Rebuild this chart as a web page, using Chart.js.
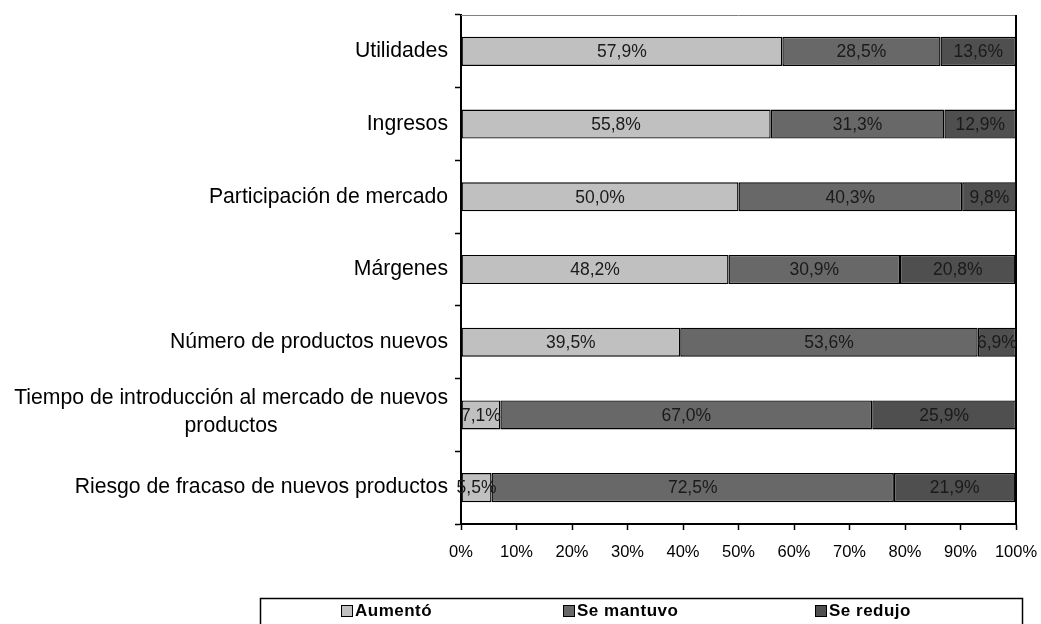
<!DOCTYPE html>
<html lang="es">
<head>
    <meta charset="UTF-8">
    <title>Evolución de indicadores</title>
    <style>
        body { margin: 0; background: #fff; }
        #wrap { width: 1041px; height: 624px; }
    </style>
</head>
<body>
    <div id="wrap">
        <canvas id="myChart" width="1041" height="624"></canvas>
    </div>

    <script src="https://cdn.jsdelivr.net/npm/chart.js"></script>
    <script>
        // categorías (la de dos líneas va como arreglo)
        const categories = [
            'Utilidades',
            'Ingresos',
            'Participación de mercado',
            'Márgenes',
            'Número de productos nuevos',
            ['Tiempo de introducción al mercado de nuevos', 'productos'],
            'Riesgo de fracaso de nuevos productos'
        ];
        const aumento = [57.9, 55.8, 50.0, 48.2, 39.5, 7.1, 5.5];
        const mantuvo = [28.5, 31.3, 40.3, 30.9, 53.6, 67.0, 72.5];
        const redujo  = [13.6, 12.9, 9.8, 20.8, 6.9, 25.9, 21.9];
        const seriesNames = ['Aumentó', 'Se mantuvo', 'Se redujo'];
        const xTickLabels = ['0%', '10%', '20%', '30%', '40%', '50%', '60%', '70%', '80%', '90%', '100%'];

        const FONT = '"Liberation Sans", Arial, sans-serif';

        function fmt(v) {
            return v.toFixed(1).replace('.', ',') + '%';
        }

        // etiquetas del eje Y (centradas por bloque, alineadas a la derecha)
        const yLabelsPlugin = {
            id: 'yLabels',
            afterDraw(chart) {
                const ctx = chart.ctx;
                const y = chart.scales.y;
                const right = chart.chartArea.left - 13;
                const lineH = 28;
                ctx.save();
                ctx.font = '21.2px ' + FONT;
                ctx.fillStyle = '#000';
                ctx.textBaseline = 'middle';
                ctx.textAlign = 'center';
                chart.data.labels.forEach((lab, i) => {
                    const lines = Array.isArray(lab) ? lab : [lab];
                    const widest = Math.max(...lines.map(l => ctx.measureText(l).width));
                    const cx = right - widest / 2;
                    const cy = y.getPixelForValue(i);
                    const y0 = cy - (lines.length - 1) * lineH / 2 - (lines.length > 1 ? 3 : 0);
                    lines.forEach((l, k) => ctx.fillText(l, cx, y0 + k * lineH));
                });
                ctx.restore();
            }
        };

        // valores dentro de cada segmento
        const valueLabelsPlugin = {
            id: 'valueLabels',
            afterDatasetsDraw(chart) {
                const ctx = chart.ctx;
                ctx.save();
                ctx.font = '17.5px ' + FONT;
                ctx.fillStyle = '#1a1a1a';
                ctx.textAlign = 'center';
                ctx.textBaseline = 'middle';
                chart.data.datasets.forEach((ds, di) => {
                    const meta = chart.getDatasetMeta(di);
                    meta.data.forEach((bar, i) => {
                        const cx = (bar.x + bar.base) / 2;
                        ctx.fillText(fmt(ds.data[i]), cx, bar.y + 1);
                    });
                });
                ctx.restore();
            }
        };

        // marco del área: arriba gris, derecha negra
        const framePlugin = {
            id: 'frame',
            beforeDatasetsDraw(chart) {
                const { ctx, chartArea: a } = chart;
                ctx.save();
                ctx.strokeStyle = '#808080';
                ctx.lineWidth = 1;
                ctx.beginPath();
                ctx.moveTo(a.left, a.top + 0.5);
                ctx.lineTo(a.right, a.top + 0.5);
                ctx.stroke();
                ctx.strokeStyle = '#000';
                ctx.lineWidth = 2;
                ctx.beginPath();
                ctx.moveTo(a.right, a.top);
                ctx.lineTo(a.right, a.bottom);
                ctx.stroke();
                ctx.restore();
            }
        };

        // leyenda en recuadro inferior
        const legendBoxPlugin = {
            id: 'legendBox',
            afterDraw(chart) {
                const ctx = chart.ctx;
                const box = { x: 260, y: 598, w: 762, h: 26 };
                const itemX = [341, 563, 815];
                const cy = box.y + 12;
                ctx.save();
                ctx.strokeStyle = '#000';
                ctx.lineWidth = 1.5;
                ctx.strokeRect(box.x + 0.5, box.y + 0.5, box.w, box.h + 4);
                ctx.font = 'bold 17px ' + FONT;
                ctx.letterSpacing = '0.5px';
                ctx.textBaseline = 'middle';
                ctx.textAlign = 'left';
                chart.data.datasets.forEach((ds, i) => {
                    const x = itemX[i];
                    ctx.fillStyle = ds.backgroundColor;
                    ctx.fillRect(x, cy - 5, 11, 11);
                    ctx.strokeStyle = '#000';
                    ctx.lineWidth = 1;
                    ctx.strokeRect(x + 0.5, cy - 4.5, 11, 11);
                    ctx.fillStyle = '#000';
                    ctx.fillText(ds.label, x + 14, cy + 1);
                });
                ctx.restore();
            }
        };

        const colors = ['#c0c0c0', '#686868', '#4f4f4f'];
        const barStyle = {
            borderColor: '#000',
            borderWidth: 1.4,
            borderSkipped: false,
            barPercentage: 0.4,
            categoryPercentage: 1
        };

        const ctx = document.getElementById('myChart').getContext('2d');
        const myChart = new Chart(ctx, {
            type: 'bar',
            data: {
                labels: categories,
                datasets: [
                    { label: seriesNames[0], data: aumento, backgroundColor: colors[0], ...barStyle },
                    { label: seriesNames[1], data: mantuvo, backgroundColor: colors[1], ...barStyle },
                    { label: seriesNames[2], data: redujo, backgroundColor: colors[2], ...barStyle }
                ]
            },
            options: {
                indexAxis: 'y',
                responsive: false,
                animation: false,
                layout: { padding: { top: 15, right: 25, bottom: 60, left: 0 } },
                plugins: {
                    legend: { display: false },
                    tooltip: { enabled: false }
                },
                scales: {
                    x: {
                        stacked: true,
                        min: 0,
                        max: 100,
                        afterFit(scale) {
                            scale.height = 40;
                            scale.paddingLeft = 0;
                            scale.paddingRight = 0;
                        },
                        afterBuildTicks(scale) {
                            scale.ticks = xTickLabels.map((t, i) => ({ value: i * 10 }));
                        },
                        grid: {
                            drawOnChartArea: false,
                            drawTicks: true,
                            tickLength: 6,
                            tickWidth: 1.5,
                            tickColor: '#000'
                        },
                        border: { color: '#000', width: 2 },
                        ticks: {
                            padding: 13,
                            color: '#000',
                            font: { family: FONT, size: 16.5 },
                            callback: (v, i) => xTickLabels[i]
                        }
                    },
                    y: {
                        stacked: true,
                        afterFit(scale) { scale.width = 461; },
                        grid: {
                            offset: true,
                            drawOnChartArea: false,
                            drawTicks: true,
                            tickLength: 6,
                            tickWidth: 1.5,
                            tickColor: '#000'
                        },
                        border: { color: '#000', width: 2 },
                        ticks: { display: false }
                    }
                }
            },
            plugins: [framePlugin, valueLabelsPlugin, yLabelsPlugin, legendBoxPlugin]
        });
    </script>
</body>
</html>
